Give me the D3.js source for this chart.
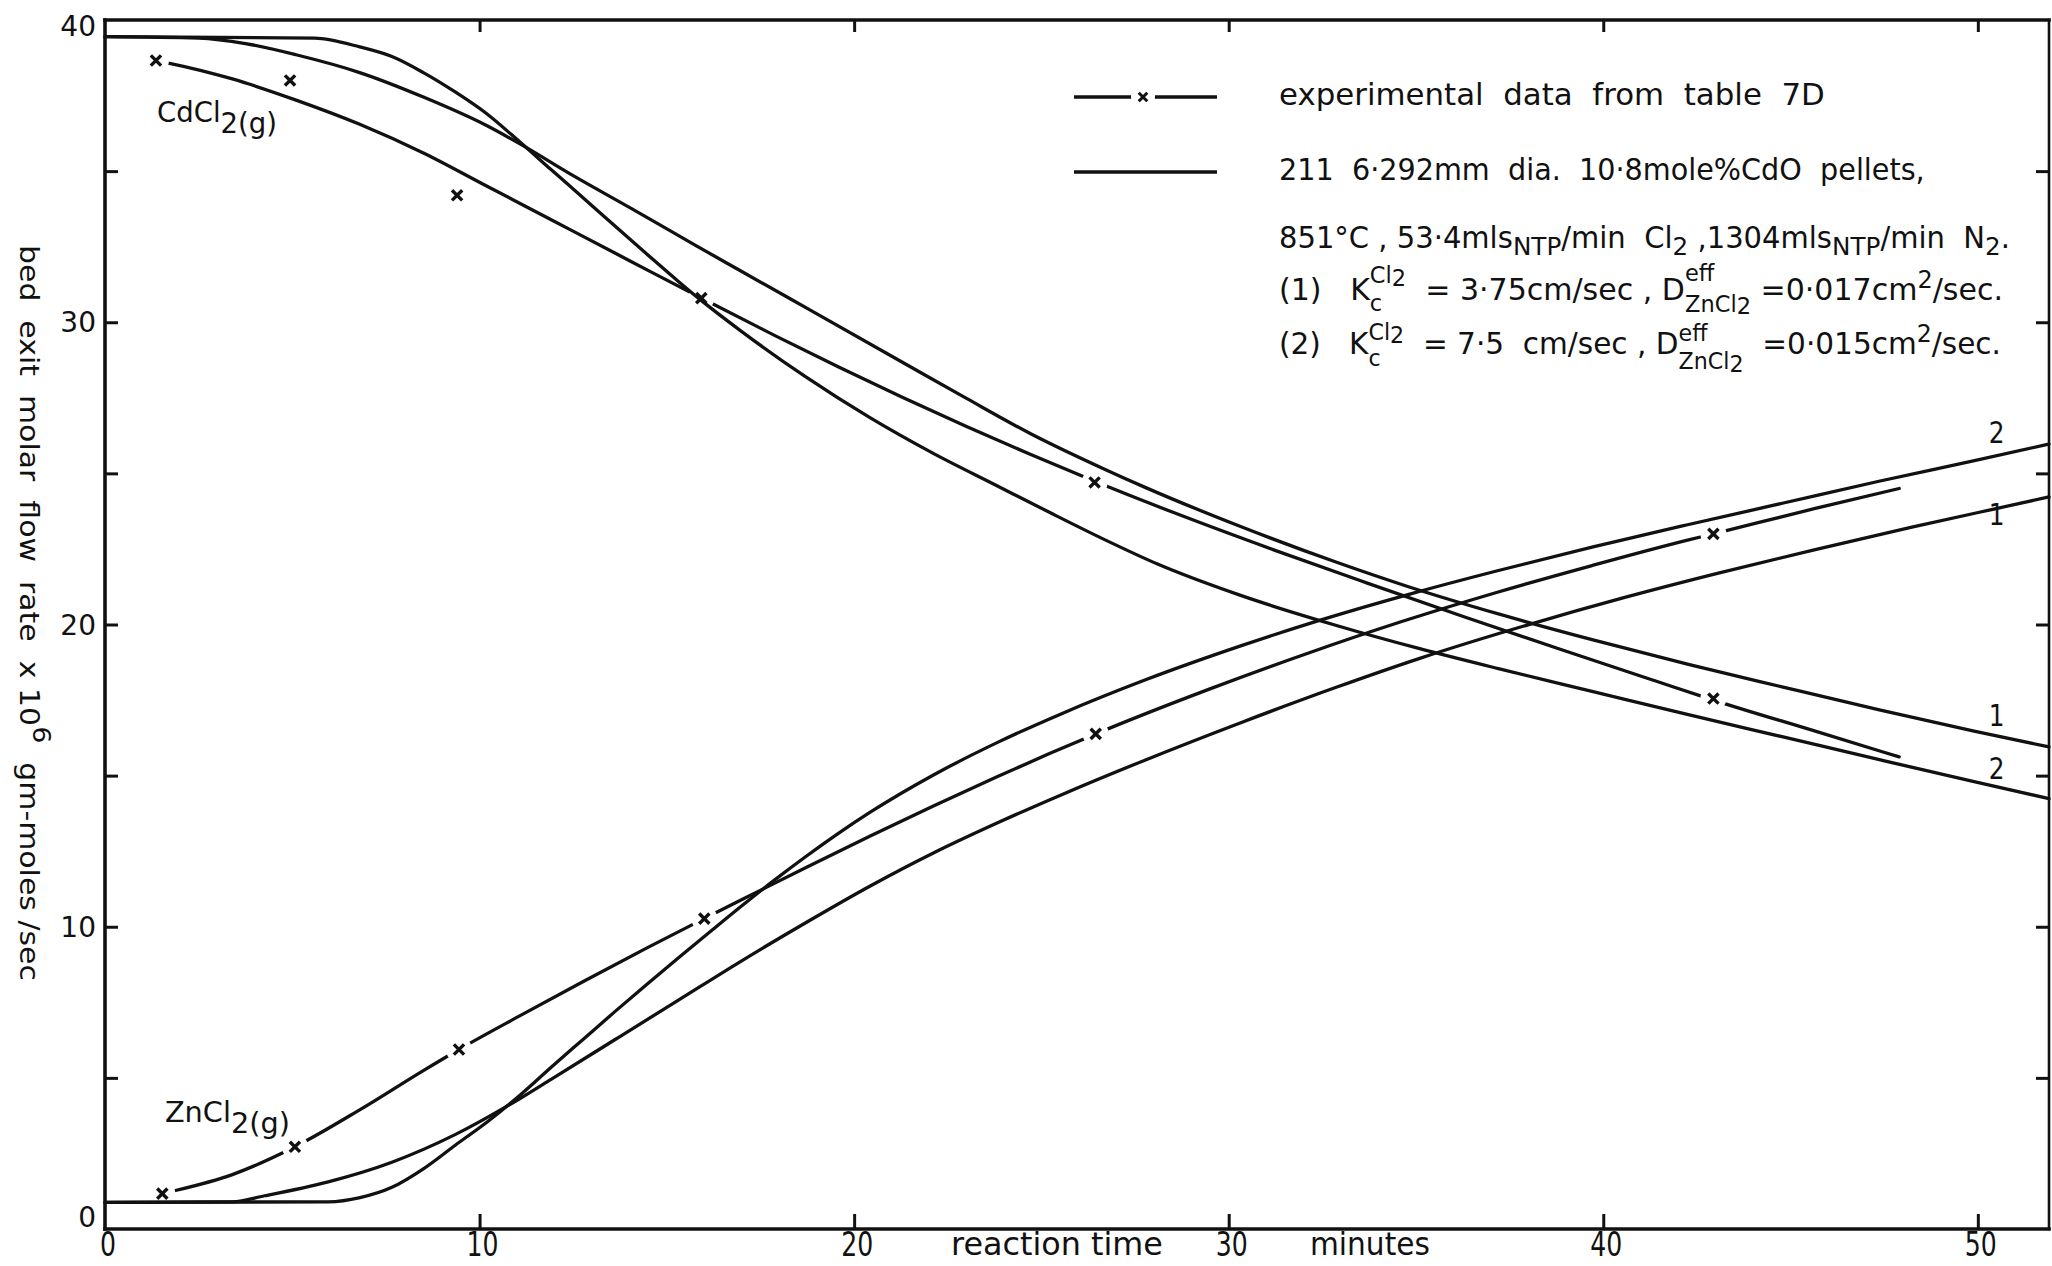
<!DOCTYPE html>
<html>
<head>
<meta charset="utf-8">
<script src="https://cdn.jsdelivr.net/npm/d3@7"></script>
<style>
  html, body { margin: 0; padding: 0; background: #fff; }
  svg { display: block; }
  text { fill: #111; white-space: pre; }
</style>
</head>
<body>
<svg id="chart" width="2052" height="1266"></svg>
<script>
// ---- data: reaction time (min) vs bed exit molar flow rate (x 1e-6 gm-moles/sec) ----
const timeTicks = [0, 10, 20, 30, 40, 50];
const flowTicks = [0, 10, 20, 30, 40];
const flowTickMarks = [5, 10, 15, 20, 25, 30, 35];

// CdCl2(g) model curves (1) and (2)
const cdModel1 = [[0,39.45],[2.5,39.4],[3.75,39.22],[5.1,38.85],[6.8,38.26],[8.5,37.45],[10.2,36.5],[11.15,35.85],
  [12.5,34.85],[14.0,33.8],[15.8,32.52],[17.0,31.68],[18.9,30.35],[21.3,28.67],[23.0,27.48],[24.7,26.32],[26.7,25.13],
  [27.8,24.52],[30.3,23.25],[32.9,22.05],[34.8,21.25],[37.2,20.35],[39.7,19.5],[42.3,18.67],[44.8,17.93],
  [47.4,17.17],[49.9,16.47],[51.9,15.95]];
const cdModel2 = [[0,39.45],[5.6,39.4],[6.8,39.11],[7.66,38.79],[8.5,38.26],[9.36,37.61],[10.2,36.89],[11.07,35.97],
  [11.9,35.06],[12.8,34.08],[13.6,33.2],[14.5,32.22],[15.3,31.36],[16.0,30.64],[17.0,29.69],[18.7,28.2],[20.4,26.86],
  [22.1,25.67],[23.8,24.6],[25.2,23.72],[26.7,22.8],[28.1,22.0],[30.3,20.97],[32.9,19.96],[35.1,19.2],[37.2,18.54],
  [39.7,17.79],[42.3,17.01],[44.8,16.28],[47.4,15.52],[49.9,14.8],[51.9,14.24]];
// CdCl2(g) experimental curve and data points
const cdExpLine = [[1.36,38.66],[1.6,38.6],[3.4,38.05],[5.1,37.35],[6.8,36.55],[8.5,35.6],[10.2,34.5],[11.9,33.4],
  [13.6,32.3],[14.6,31.65],[15.92,30.8],[17.9,29.55],[19.6,28.51],[21.3,27.51],[23.0,26.55],[24.7,25.63],[26.42,24.74],
  [28.6,23.67],[31.2,22.47],[33.7,21.37],[36.3,20.25],[38.85,19.18],[41.4,18.13],[42.94,17.5],[45.66,16.47],[47.9,15.62]];
const cdExpPoints = [[1.36,38.66],[4.94,38.0],[9.4,34.2],[15.92,30.8],[26.42,24.7],[42.94,17.55]];

// ZnCl2(g) model curves (1) and (2)
const znModel1 = [[0,0.88],[3.4,0.9],[4.26,1.1],[5.96,1.56],[7.66,2.21],[9.36,3.13],[11.07,4.31],[11.92,4.96],
  [13.62,6.27],[15.32,7.58],[17.02,8.89],[18.73,10.15],[20.43,11.35],[22.13,12.45],[23.83,13.44],[25.54,14.37],
  [27.78,15.52],[30.34,16.76],[32.89,17.93],[35.1,18.88],[37.99,19.99],[40.55,20.89],[43.1,21.71],[45.66,22.48],
  [48.21,23.21],[50.43,23.82],[51.9,24.22]];
const znModel2 = [[0,0.88],[5.96,0.9],[6.81,1.04],[7.66,1.38],[8.51,2.0],[9.36,2.78],[10.21,3.55],[11.07,4.42],
  [11.92,5.36],[12.77,6.28],[13.62,7.2],[14.47,8.1],[15.32,8.98],[16.17,9.85],[17.02,10.71],[17.88,11.55],[18.73,12.34],
  [19.58,13.09],[20.43,13.79],[22.13,15.03],[23.83,16.1],[25.54,17.05],[27.78,18.17],[30.34,19.3],[32.38,20.12],
  [34.93,21.04],[37.15,21.77],[39.7,22.56],[42.25,23.3],[44.81,24.02],[47.36,24.74],[49.91,25.42],[51.9,25.97]];
// ZnCl2(g) experimental curve and data points
const znExpLine = [[1.53,1.17],[1.7,1.22],[3.4,1.8],[5.07,2.72],[6.81,3.95],[8.51,5.25],[9.45,5.94],[11.07,7.05],
  [12.77,8.19],[14.47,9.3],[16.0,10.27],[17.02,10.91],[18.73,11.97],[20.43,13.0],[22.13,14.0],[23.83,14.97],[25.2,15.72],
  [26.45,16.38],[29.5,17.87],[32.0,19.0],[34.6,20.09],[37.15,21.06],[39.7,21.95],[42.25,22.79],[42.94,23.0],[45.66,23.84],[47.9,24.5]];
const znExpPoints = [[1.53,1.17],[5.07,2.72],[9.45,5.94],[16.0,10.27],[26.45,16.38],[42.94,23.0]];

// curve-end labels: [time, flow, text]
const endLabels = [[50.5,26.0,"2"],[50.5,23.3,"1"],[50.5,16.65,"1"],[50.5,14.9,"2"]];

// ---- layout ----
const plot = { left: 105, right: 2049, top: 20, bottom: 1229 };
const INK = "#111";
const ROUND = "'DejaVu Sans', 'Noto Sans', sans-serif";
const LETTER = "'DejaVu Sans', 'Liberation Sans', sans-serif";

const svg = d3.select("#chart");
const x = d3.scaleLinear().domain([0, 51.9]).range([plot.left, plot.right]);
const y = d3.scaleLinear().domain([0, 40]).range([plot.bottom, plot.top]);

// rich text: a run of tokens (with sub/superscripts and stacked pairs), stretched to a width
function richText(parent, tokens, o) {
  const outer = parent.append("g")
    .attr("transform", `translate(${o.x},${o.y})` + (o.rotate ? ` rotate(${o.rotate})` : ""));
  const inner = outer.append("g").attr("font-family", o.family);
  const run = (list, x0) => {
    let c = x0;
    list.forEach(r => {
      const el = inner.append("text")
        .attr("x", c).attr("y", r.dy || 0)
        .attr("font-size", o.fs * (r.s || 1))
        .text(r.t);
      c += el.node().getComputedTextLength();
    });
    return c - x0;
  };
  let cx = 0;
  tokens.forEach(tok => {
    if (tok.stack) cx += d3.max(tok.stack.map(part => run(part, cx)));
    else cx += run([tok], cx);
  });
  if (o.width) inner.attr("transform", `scale(${o.width / cx},1)`);
  return outer;
}

// ---- frame ----
const frame = svg.append("g").attr("stroke", INK).attr("stroke-linecap", "square");
frame.append("line").attr("x1", plot.left).attr("x2", plot.right).attr("y1", plot.bottom).attr("y2", plot.bottom).attr("stroke-width", 3.6);
frame.append("line").attr("x1", plot.left).attr("x2", plot.right).attr("y1", plot.top).attr("y2", plot.top).attr("stroke-width", 3.6);
frame.append("line").attr("x1", plot.left).attr("x2", plot.left).attr("y1", plot.top).attr("y2", plot.bottom).attr("stroke-width", 3.6);
frame.append("line").attr("x1", plot.right).attr("x2", plot.right).attr("y1", plot.top).attr("y2", plot.bottom).attr("stroke-width", 2.6);

// ---- inward tick marks on all four sides ----
function ticks(g) {
  g.select(".domain").remove();
  g.selectAll(".tick line").attr("stroke", INK).attr("stroke-width", 3);
  g.selectAll(".tick text").remove();
}
svg.append("g").attr("transform", `translate(0,${plot.bottom})`)
  .call(d3.axisBottom(x).tickValues(timeTicks.slice(1)).tickSize(-15)).call(ticks);
svg.append("g").attr("transform", `translate(0,${plot.top})`)
  .call(d3.axisTop(x).tickValues(timeTicks.slice(1)).tickSize(-12)).call(ticks);
svg.append("g").attr("transform", `translate(${plot.left},0)`)
  .call(d3.axisLeft(y).tickValues(flowTickMarks).tickSize(-13)).call(ticks);
svg.append("g").attr("transform", `translate(${plot.right},0)`)
  .call(d3.axisRight(y).tickValues(flowTickMarks).tickSize(-13)).call(ticks);

// ---- tick labels ----
svg.append("g").selectAll("text").data(timeTicks).join("text")
  .attr("transform", d => `translate(${x(d) + 3},1256) scale(0.74,1)`)
  .attr("text-anchor", "middle")
  .attr("font-family", LETTER).attr("font-size", 34)
  .text(d => d);

const yShift = d => d === 40 ? 6 : d === 0 ? -12 : 0;
svg.append("g").selectAll("text").data(flowTicks).join("text")
  .attr("x", plot.left - 9)
  .attr("y", d => y(d) + yShift(d) + 10)
  .attr("text-anchor", "end")
  .attr("font-family", ROUND).attr("font-size", 28)
  .text(d => d);

// ---- axis titles ----
richText(svg, [{ t: "reaction time" }], { x: 951, y: 1255, fs: 32, family: LETTER, width: 212 });
richText(svg, [{ t: "minutes" }], { x: 1310, y: 1255, fs: 32, family: LETTER, width: 120 });
richText(svg, [
  { t: "bed  exit  molar  flow  rate  x 10" }, { t: "6", dy: -13, s: 0.9 }, { t: "  gm-moles /sec" }
], { x: 20, y: 245, fs: 27, family: ROUND, width: 736, rotate: 90 });

// ---- curves ----
const line = d3.line().x(d => x(d[0])).y(d => y(d[1])).curve(d3.curveMonotoneX);
const curves = svg.append("g").attr("fill", "none").attr("stroke", INK)
  .attr("stroke-width", 3.3).attr("stroke-linejoin", "round").attr("stroke-linecap", "round");

[cdModel1, cdModel2, znModel1, znModel2].forEach(s => curves.append("path").attr("d", line(s)));

// experimental curves are broken where a data point sits on them
function onLine(points, series) {
  const interp = d3.scaleLinear().domain(series.map(d => d[0])).range(series.map(d => d[1]));
  return points.filter(p => Math.abs(y(p[1]) - y(interp(p[0]))) < 8);
}
const legendExp = { x0: 1074, x1: 1217, xm: 1143, y: 97 };
const legendModel = { x0: 1074, x1: 1217, y: 172 };

const defs = svg.append("defs");
const mask = defs.append("mask").attr("id", "expGaps").attr("maskUnits", "userSpaceOnUse")
  .attr("x", 0).attr("y", 0).attr("width", 2052).attr("height", 1266);
mask.append("rect").attr("width", 2052).attr("height", 1266).attr("fill", "#fff");
mask.selectAll("circle.data")
  .data(onLine(cdExpPoints, cdExpLine).concat(onLine(znExpPoints, znExpLine)))
  .join("circle").attr("class", "data")
  .attr("cx", d => x(d[0])).attr("cy", d => y(d[1])).attr("r", 13).attr("fill", "#000");
mask.append("circle").attr("cx", legendExp.xm).attr("cy", legendExp.y).attr("r", 12).attr("fill", "#000");

const exp = curves.append("g").attr("mask", "url(#expGaps)");
exp.append("path").attr("d", line(cdExpLine));
exp.append("path").attr("d", line(znExpLine));
exp.append("line").attr("x1", legendExp.x0).attr("x2", legendExp.x1)
  .attr("y1", legendExp.y).attr("y2", legendExp.y).attr("stroke-linecap", "butt");
curves.append("line").attr("x1", legendModel.x0).attr("x2", legendModel.x1)
  .attr("y1", legendModel.y).attr("y2", legendModel.y).attr("stroke-linecap", "butt");

// data point crosses
const cross = d3.symbol(d3.symbolX).size(70);
svg.append("g").attr("fill", "none").attr("stroke", INK).attr("stroke-width", 3.4)
  .selectAll("path").data(cdExpPoints.concat(znExpPoints)).join("path")
  .attr("transform", d => `translate(${x(d[0])},${y(d[1])})`)
  .attr("d", cross);
svg.append("path").attr("fill", "none").attr("stroke", INK).attr("stroke-width", 3)
  .attr("transform", `translate(${legendExp.xm},${legendExp.y})`)
  .attr("d", d3.symbol(d3.symbolX).size(50));

// ---- curve labels ----
richText(svg, [{ t: "CdCl" }, { t: "2(g)", dy: 11 }], { x: x(1.39), y: y(36.62), fs: 29, family: ROUND, width: 120 });
richText(svg, [{ t: "ZnCl" }, { t: "2(g)", dy: 11 }], { x: x(1.6), y: y(3.54), fs: 29, family: ROUND, width: 125 });

svg.append("g").selectAll("text").data(endLabels).join("text")
  .attr("transform", d => `translate(${x(d[0])},${y(d[1])}) scale(0.8,1)`)
  .attr("text-anchor", "middle")
  .attr("font-family", LETTER).attr("font-size", 31)
  .text(d => d[2]);

// ---- legend and run conditions ----
const legendX = 1279;
richText(svg, [{ t: "experimental  data  from  table  7D" }],
  { x: legendX, y: 105, fs: 30, family: LETTER, width: 546 });
richText(svg, [{ t: "211  6·292mm  dia.  10·8mole%CdO  pellets," }],
  { x: legendX, y: 180, fs: 30, family: LETTER, width: 646 });
richText(svg, [
  { t: "851°C , 53·4mls" }, { t: "NTP", dy: 7, s: 0.85 }, { t: "/min  Cl" }, { t: "2", dy: 7, s: 0.85 },
  { t: " ,1304mls" }, { t: "NTP", dy: 7, s: 0.85 }, { t: "/min  N" }, { t: "2", dy: 7, s: 0.85 }, { t: "." }
], { x: legendX, y: 248, fs: 30, family: LETTER, width: 731 });
richText(svg, [
  { t: "(1)   K" },
  { stack: [[{ t: "Cl", dy: -17, s: 0.75 }, { t: "2", dy: -14, s: 0.75 }], [{ t: "c", dy: 11, s: 0.75 }]] },
  { t: "  = 3·75cm/sec , D" },
  { stack: [[{ t: "eff", dy: -19, s: 0.75 }], [{ t: "ZnCl", dy: 12, s: 0.75 }, { t: "2", dy: 14, s: 0.75 }]] },
  { t: " =0·017cm" }, { t: "2", dy: -12, s: 0.8 }, { t: "/sec." }
], { x: legendX, y: 300, fs: 30, family: LETTER, width: 724 });
richText(svg, [
  { t: "(2)   K" },
  { stack: [[{ t: "Cl", dy: -14, s: 0.75 }, { t: "2", dy: -11, s: 0.75 }], [{ t: "c", dy: 12, s: 0.75 }]] },
  { t: "  = 7·5  cm/sec , D" },
  { stack: [[{ t: "eff", dy: -13, s: 0.75 }], [{ t: "ZnCl", dy: 15, s: 0.75 }, { t: "2", dy: 18, s: 0.75 }]] },
  { t: "  =0·015cm" }, { t: "2", dy: -12, s: 0.8 }, { t: "/sec." }
], { x: legendX, y: 354, fs: 30, family: LETTER, width: 722 });
</script>
</body>
</html>
